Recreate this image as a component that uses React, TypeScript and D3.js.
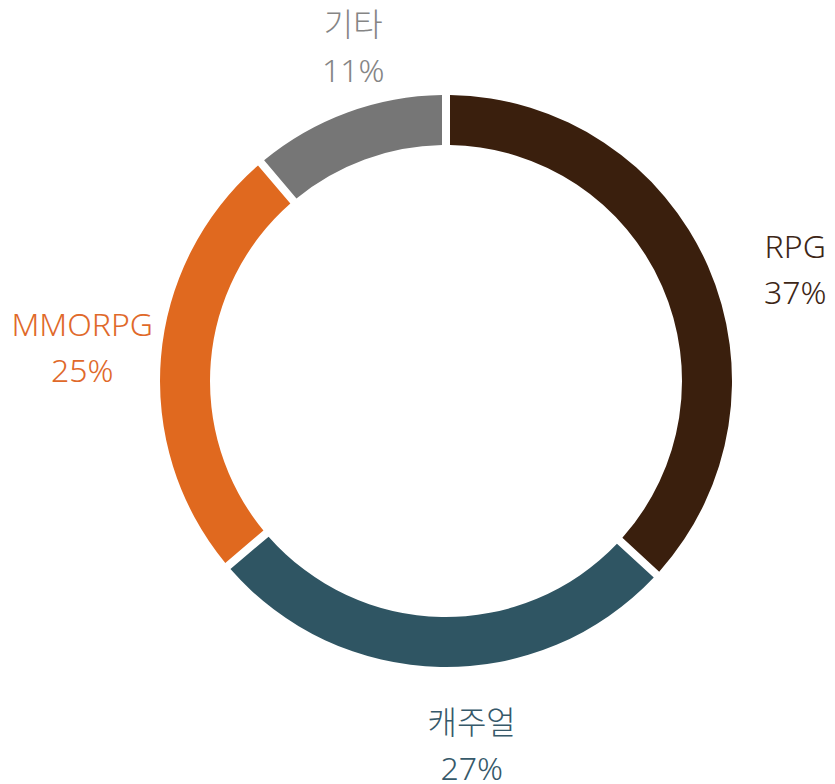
import React from "react";
import * as d3 from "d3";

const categories = ["RPG", "캐주얼", "MMORPG", "기타"];
const values = [37, 27, 25, 11];
const colors = ["#3a1f0d", "#2f5563", "#e0691f", "#767676"];
const labelColors = ["#3d2616", "#36596a", "#e0692a", "#858585"];

const W = 835;
const H = 784;
const CX = 446;
const CY = 381;
const R_OUT = 286;
const R_IN = 236;
const LABEL_R = 365;
const LINE_GAP = 46;
// small layout nudges for labels (dx, dy)
const labelNudge: [number, number][] = [
  [15, 47],
  [33, 11],
  [0, 8],
  [33, 21],
];

export default function App() {
  const pie = d3
    .pie<number>()
    .sort(null)
    .value((d) => d)
    .padAngle(8 / Math.sqrt(R_IN * R_IN + R_OUT * R_OUT));
  const arcs = pie(values);
  const arc = d3.arc<d3.PieArcDatum<number>>().innerRadius(R_IN).outerRadius(R_OUT);
  const total = d3.sum(values);

  return (
    <svg
      width={W}
      height={H}
      style={{ position: "absolute", left: 0, top: 0, background: "#fff" }}
    >
      <g transform={`translate(${CX},${CY})`}>
        {arcs.map((a, i) => (
          <path key={i} d={arc(a) || ""} fill={colors[i]} />
        ))}
        {arcs.map((a, i) => {
          const mid = (a.startAngle + a.endAngle) / 2;
          const x = LABEL_R * Math.sin(mid) + labelNudge[i][0];
          const y = -LABEL_R * Math.cos(mid) + labelNudge[i][1];
          const pct = Math.round((values[i] / total) * 100);
          return (
            <text
              key={"l" + i}
              x={x}
              y={y}
              textAnchor="middle"
              fill={labelColors[i]}
              style={{
                fontFamily: "'Noto Sans', 'Noto Sans CJK KR', sans-serif",
                fontSize: 32,
                fontWeight: 300,
              }}
            >
              <tspan x={x} dy={-LINE_GAP / 2}>
                {categories[i]}
              </tspan>
              <tspan x={x} dy={LINE_GAP}>
                {pct}%
              </tspan>
            </text>
          );
        })}
      </g>
    </svg>
  );
}
